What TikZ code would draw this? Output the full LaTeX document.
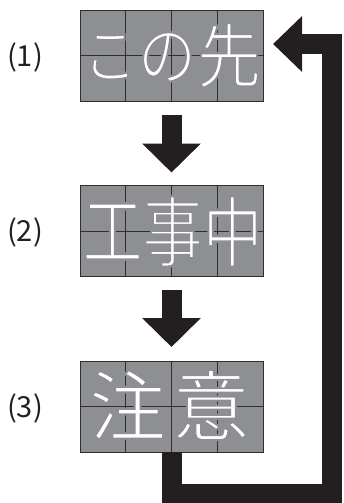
\documentclass[tikz,border=0pt]{standalone}
\usepackage{fontspec}
\newfontfamily\jpfont{Noto Sans CJK JP}
\usetikzlibrary{arrows.meta,calc}
\definecolor{panelgray}{HTML}{8E8F92}
\definecolor{ink}{HTML}{231F20}
\definecolor{gridline}{HTML}{2E2E30}
% thin the white glyph strokes by outlining them in the panel grey
\newcommand{\thinglyph}[1]{\special{pdf:code 2 Tr 2 w 0.557 0.561 0.573 RG}#1\special{pdf:code 0 Tr}}
\tikzset{
  panel/.style={draw=gridline, line width=0.8pt, fill=panelgray, minimum width=183pt, minimum height=91pt, inner sep=0pt, outer sep=0pt},
  gridl/.style={draw=gridline, line width=1pt},
  label/.style={font=\jpfont\fontsize{29}{29}\selectfont, text=ink, inner sep=0pt},
  dotchar/.style={text=white, inner sep=0pt},
  blockarrow/.style={draw=ink, line width=20pt, -{Triangle[length=29pt,width=57pt]}},
  loopline/.style={draw=ink, line width=20pt, line join=miter, -{Triangle[length=29pt,width=54pt]}}
}
\begin{document}
\begin{tikzpicture}[x=1pt,y=-1pt]
\useasboundingbox (0,0) rectangle (343,503);
% panels
\node[panel] (p1) at (171.5,55.5) {};
\node[panel] (p2) at (171.5,231) {};
\node[panel] (p3) at (171.5,406.5) {};
\foreach \p in {p1,p2,p3} {
  \foreach \f in {0.25,0.5,0.75}
    \draw[gridl] ($(\p.north west)!\f!(\p.north east)$) -- ($(\p.south west)!\f!(\p.south east)$);
  \draw[gridl] (\p.west) -- (\p.east);
}
% labels
\node[label] (l1) at (25,57) {(1)};
\node[label] (l2) at (25,232.5) {(2)};
\node[label] (l3) at (25,408) {(3)};
% characters
\node[dotchar, font=\jpfont\fontsize{54}{54}\selectfont, yscale=1.15] (c11) at (110,57) {\thinglyph{こ}};
\node[dotchar, font=\jpfont\fontsize{58}{58}\selectfont, yscale=1.15] (c12) at (167,57) {\thinglyph{の}};
\node[dotchar, font=\jpfont\fontsize{64}{64}\selectfont, yscale=1.1] (c13) at (229,55.5) {\thinglyph{先}};
\node[dotchar, font=\jpfont\fontsize{60}{60}\selectfont, yscale=1.28] (c21) at (112.5,231.5) {\thinglyph{工}};
\node[dotchar, font=\jpfont\fontsize{60}{60}\selectfont, yscale=1.28] (c22) at (172.5,231.5) {\thinglyph{事}};
\node[dotchar, font=\jpfont\fontsize{60}{60}\selectfont, yscale=1.28] (c23) at (232.5,231.5) {\thinglyph{中}};
\node[dotchar, font=\jpfont\fontsize{77}{77}\selectfont] (c31) at (127.5,405) {\thinglyph{注}};
\node[dotchar, font=\jpfont\fontsize{77}{77}\selectfont] (c32) at (211,405) {\thinglyph{意}};
% down arrows
\draw[blockarrow] ([yshift=-14pt]p1.south) -- ([yshift=13pt]p2.north);
\draw[blockarrow] ([yshift=-13pt]p2.south) -- ([yshift=14pt]p3.north);
% return loop
\coordinate (br) at (331.5,494);
\coordinate (tip) at (273,44);
\draw[loopline] (p3.south) |- (br) |- (tip);
\end{tikzpicture}
\end{document}
